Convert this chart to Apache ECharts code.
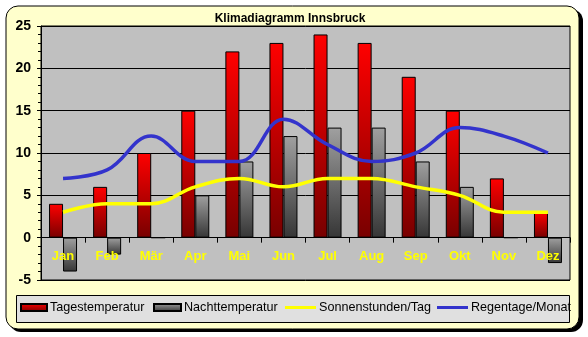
<!DOCTYPE html>
<html><head><meta charset="utf-8">
<script src="https://cdn.jsdelivr.net/npm/echarts@6/dist/echarts.min.js"></script>
<style>html,body{margin:0;padding:0;background:#fff}#c{width:588px;height:337px}</style>
</head><body><div id="c"></div>
<script>
var months = ['Jan','Feb','Mär','Apr','Mai','Jun','Jul','Aug','Sep','Okt','Nov','Dez'];
var tagesTemp = [4, 6, 10, 15, 22, 23, 24, 23, 19, 15, 7, 3];
var nachtTemp = [-4, -2, 0, 5, 9, 12, 13, 13, 9, 6, 0, -3];
var sonnenStunden = [3, 4, 4, 6, 7, 6, 7, 7, 6, 5, 3, 3];
var regenTage = [7, 8, 12, 9, 9, 14, 11, 9, 10, 13, 12, 10];
var seriesNames = ['Tagestemperatur','Nachttemperatur','Sonnenstunden/Tag','Regentage/Monat'];
var yMin = -5, yMax = 25;

var chart = echarts.init(document.getElementById('c'), null, {renderer:'canvas'});
var redGrad = new echarts.graphic.LinearGradient(0,0,0,1,[{offset:0,color:'#FF0000'},{offset:1,color:'#780000'}]);
var greyGrad = new echarts.graphic.LinearGradient(0,0,0,1,[{offset:0,color:'#A0A0A0'},{offset:1,color:'#363636'}]);
var font = 'Liberation Sans, Arial, sans-serif';
var gridTop = 26, gridBottom = 57, H = 337;
var plotH = H - gridTop - gridBottom;
var zeroOffset = -plotH * (0 - yMin) / (yMax - yMin);
function leg(name, left, w, h) {
  return {
    left: left, top: 301, padding: 0, itemWidth: w, itemHeight: h,
    textStyle: {fontSize: 12.6, color:'#000', fontFamily: font, padding:[0,0,0,-2]},
    data: [{name: name, icon: 'rect'}]
  };
}
chart.setOption({
  animation: false,
  textStyle: {fontFamily: font},
  graphic: [
    {type:'rect', z:-20, shape:{x:9, y:9, width:574, height:323, r:12}, style:{fill:'#000'}},
    {type:'rect', z:-19, shape:{x:6, y:6, width:573, height:323, r:12}, style:{fill:'#FFFFCC', stroke:'#000', lineWidth:1}},
    {type:'rect', z:-18, shape:{x:16.5, y:295.5, width:553, height:27}, style:{fill:'#E0E0E0', stroke:'#000', lineWidth:1}}
  ],
  title: {text:'Klimadiagramm Innsbruck', left:285, textAlign:'center', top:8,
    textStyle:{fontSize:12, fontWeight:'bold', color:'#000', fontFamily:font}},
  legend: [
    leg(seriesNames[0], 20, 26, 7),
    leg(seriesNames[1], 153, 27, 7),
    leg(seriesNames[2], 285, 31, 3),
    leg(seriesNames[3], 437, 31, 3)
  ],
  grid: {left:41, right:18, top:gridTop, bottom:gridBottom, show:true, backgroundColor:'#C0C0C0', borderColor:'#000', borderWidth:1},
  xAxis: {
    type:'category', data: months, position:'bottom', offset: zeroOffset, z: 10,
    axisLine:{onZero:false, lineStyle:{color:'#000', width:1}},
    axisTick:{show:true, length:5, lineStyle:{color:'#000'}},
    axisLabel:{color:'#FFFF00', fontWeight:'bold', fontSize:13, margin:12, fontFamily:font},
    splitLine:{show:false}
  },
  yAxis: {
    type:'value', min:yMin, max:yMax, interval:5,
    axisLine:{show:true, lineStyle:{color:'#000'}},
    axisTick:{show:true, length:4, lineStyle:{color:'#000'}},
    minorTick:{show:true, splitNumber:5, length:3, lineStyle:{color:'#000'}},
    axisLabel:{color:'#000', fontWeight:'bold', fontSize:14, margin:10, fontFamily:font},
    splitLine:{show:true, lineStyle:{color:'#000', width:1}}
  },
  series: [
    {name: seriesNames[0], type:'bar', data: tagesTemp, barWidth:14, barGap:'0%',
      itemStyle:{color: redGrad, borderColor:'#000', borderWidth:1}},
    {name: seriesNames[1], type:'bar', data: nachtTemp, barWidth:14, barGap:'0%',
      itemStyle:{color: greyGrad, borderColor:'#000', borderWidth:1}},
    {name: seriesNames[2], type:'line', data: sonnenStunden, smooth:0.4, symbol:'none',
      lineStyle:{color:'#FFFF00', width:3.5}, itemStyle:{color:'#FFFF00'}},
    {name: seriesNames[3], type:'line', data: regenTage, smooth:0.4, symbol:'none',
      lineStyle:{color:'#3333CC', width:3.5}, itemStyle:{color:'#3333CC'}}
  ]
});
</script></body></html>
